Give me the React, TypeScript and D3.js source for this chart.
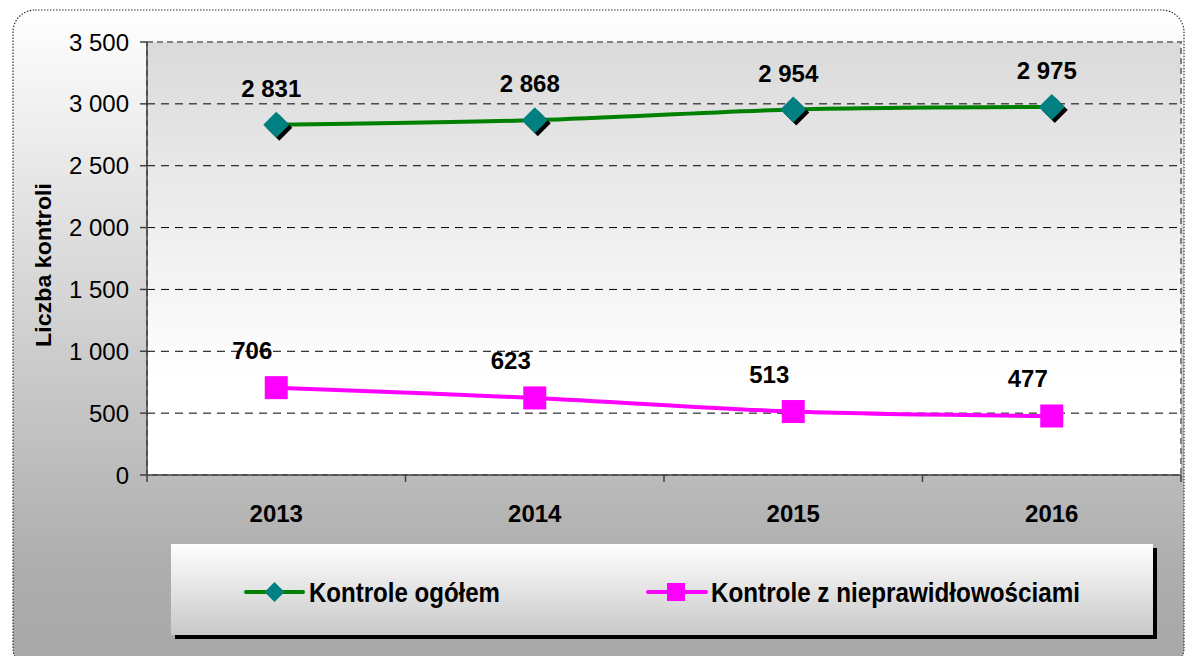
import React from "react";
import * as d3 from "d3";

const years = ["2013", "2014", "2015", "2016"];
const totalControls = [2831, 2868, 2954, 2975];
const irregularControls = [706, 623, 513, 477];
const yTicks = [0, 500, 1000, 1500, 2000, 2500, 3000, 3500];
const seriesNames = ["Kontrole ogółem", "Kontrole z nieprawidłowościami"];

const W = 1186;
const H = 656;
const plot = { left: 147, right: 1181, top: 42, bottom: 475 };
const font = "'Liberation Sans', Arial, sans-serif";
const green = "#008000";
const teal = "#008080";
const magenta = "#ff00ff";

const fmt = (v: number) => d3.format(",")(v).replace(/,/g, " ");

const x = d3.scaleBand<string>().domain(years).range([plot.left, plot.right]).padding(0);
const y = d3.scaleLinear().domain([0, 3500]).range([plot.bottom, plot.top]);
const cx = (d: string) => (x(d) as number) + x.bandwidth() / 2;

const lineGen = d3
  .line<number>()
  .x((_, i) => cx(years[i]))
  .y((v) => y(v))
  .curve(d3.curveCatmullRom.alpha(0.5));

const diamond = (px: number, py: number, r: number) =>
  `M${px},${py - r}L${px + r},${py}L${px},${py + r}L${px - r},${py}Z`;

export default function App() {
  const boundaries = [...years.map((d) => x(d) as number), plot.right];
  return (
    <svg width={W} height={H} style={{ position: "absolute", left: 0, top: 0 }} fontFamily={font}>
      <defs>
        <linearGradient id="outerBg" x1="0" y1="0" x2="0" y2="1">
          <stop offset="0" stopColor="#ffffff" />
          <stop offset="0.85" stopColor="#adadad" />
          <stop offset="1" stopColor="#a8a8a8" />
        </linearGradient>
        <linearGradient id="plotBg" x1="0" y1="0" x2="0" y2="1">
          <stop offset="0" stopColor="#dadada" />
          <stop offset="0.78" stopColor="#ffffff" />
          <stop offset="1" stopColor="#ffffff" />
        </linearGradient>
        <linearGradient id="legendBg" x1="0" y1="0" x2="0" y2="1">
          <stop offset="0" stopColor="#ffffff" />
          <stop offset="1" stopColor="#c8c8c8" />
        </linearGradient>
      </defs>

      {/* outer frame */}
      <rect x={13} y={10} width={1171} height={660} rx={22} fill="url(#outerBg)"
        stroke="#333" strokeWidth={1.2} strokeDasharray="1.5,1.5" />

      {/* plot area */}
      <rect x={plot.left} y={plot.top} width={plot.right - plot.left} height={plot.bottom - plot.top}
        fill="url(#plotBg)" stroke="#808080" strokeWidth={2} strokeDasharray="6,4" />

      {/* gridlines */}
      {yTicks.filter((t) => t > 0 && t < 3500).map((t) => (
        <line key={t} x1={plot.left} x2={plot.right} y1={y(t)} y2={y(t)}
          stroke="#000" strokeWidth={1} strokeDasharray="8,6" />
      ))}

      {/* y axis */}
      <line x1={plot.left} x2={plot.left} y1={plot.top} y2={plot.bottom} stroke="#404040" strokeWidth={1.5} />
      {yTicks.map((t) => (
        <g key={t}>
          <line x1={plot.left - 7} x2={plot.left} y1={y(t)} y2={y(t)} stroke="#404040" strokeWidth={1.5} />
          <text x={129} y={y(t)} dy="0.36em" textAnchor="end" fontSize={24} fill="#000">
            {fmt(t)}
          </text>
        </g>
      ))}
      <text transform={`translate(51,265) rotate(-90)`} textAnchor="middle"
        fontSize={22} fontWeight="bold" textLength={164} lengthAdjust="spacingAndGlyphs">Liczba kontroli</text>

      {/* x axis */}
      <line x1={plot.left} x2={plot.right} y1={plot.bottom} y2={plot.bottom} stroke="#404040" strokeWidth={1.5} />
      {boundaries.map((b, i) => (
        <line key={i} x1={b} x2={b} y1={plot.bottom} y2={plot.bottom + 7} stroke="#404040" strokeWidth={1.5} />
      ))}
      {years.map((d) => (
        <text key={d} x={cx(d)} y={522} textAnchor="middle" fontSize={24} fontWeight="bold">{d}</text>
      ))}

      {/* series: total */}
      <path d={lineGen(totalControls) || ""} fill="none" stroke={green} strokeWidth={4} />
      {totalControls.map((v, i) => (
        <g key={i}>
          <path d={diamond(cx(years[i]) + 3, y(v) + 3, 13)} fill="#000" />
          <path d={diamond(cx(years[i]), y(v), 13)} fill={teal} />
          <text x={cx(years[i]) - 5} y={y(v) - 28} textAnchor="middle" fontSize={24} fontWeight="bold">
            {fmt(v)}
          </text>
        </g>
      ))}

      {/* series: irregular */}
      <path d={lineGen(irregularControls) || ""} fill="none" stroke={magenta} strokeWidth={4} />
      {irregularControls.map((v, i) => (
        <g key={i}>
          <rect x={cx(years[i]) - 11.5} y={y(v) - 11.5} width={23} height={23} fill={magenta} />
          <text x={cx(years[i]) - 24} y={y(v) - 29} textAnchor="middle" fontSize={24} fontWeight="bold">
            {fmt(v)}
          </text>
        </g>
      ))}

      {/* legend */}
      <rect x={175} y={548} width={982} height={91} fill="#000" />
      <rect x={171} y={544} width={982} height={91} fill="url(#legendBg)" />
      <line x1={246} x2={303} y1={592} y2={592} stroke={green} strokeWidth={4} strokeLinecap="round" />
      <path d={diamond(274.5, 592, 10)} fill={teal} />
      <text transform="translate(309,602) scale(1,1.12)" fontSize={24} fontWeight="bold" textLength={191}
        lengthAdjust="spacingAndGlyphs">{seriesNames[0]}</text>
      <line x1={648} x2={706} y1={592} y2={592} stroke={magenta} strokeWidth={4} strokeLinecap="round" />
      <rect x={667} y={583} width={18} height={18} fill={magenta} />
      <text transform="translate(711,602) scale(1,1.12)" fontSize={24} fontWeight="bold" textLength={369}
        lengthAdjust="spacingAndGlyphs">{seriesNames[1]}</text>
    </svg>
  );
}
